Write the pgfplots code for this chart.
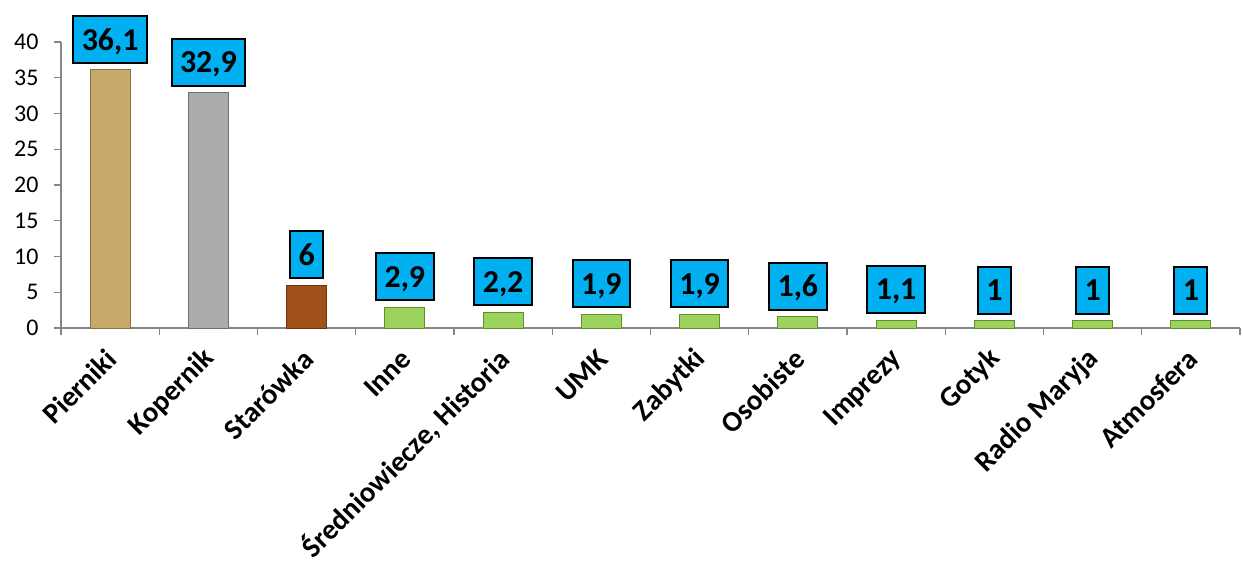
\documentclass[border=0pt]{standalone}
\usepackage{fontspec}
\setmainfont{Carlito}
\usepackage{pgfplots}
\pgfplotsset{compat=1.18}
\definecolor{labelblue}{HTML}{00B0F0}
\definecolor{axisgray}{HTML}{868686}
\definecolor{tanbar}{HTML}{C9A96A}
\definecolor{tanedge}{HTML}{8C7240}
\definecolor{graybar}{HTML}{ABABAB}
\definecolor{grayedge}{HTML}{707070}
\definecolor{brownbar}{HTML}{A1521A}
\definecolor{brownedge}{HTML}{6B340E}
\definecolor{greenbar}{HTML}{9CD35C}
\definecolor{greenedge}{HTML}{5E8F2A}

\begin{document}
\begin{tikzpicture}
\useasboundingbox (-61bp,-236bp) rectangle (1182bp,328bp);
\clip (-61bp,-236bp) rectangle (1182bp,328bp);
\begin{axis}[
  scale only axis, width=1179bp, height=286bp,
  xmin=-0.5, xmax=11.5, ymin=0, ymax=40,
  clip=false,
  axis x line=bottom, axis y line=left,
  axis line style={-, draw=axisgray, line width=1.3bp},
  tick style={draw=axisgray, line width=1.3bp},
  tick align=outside, major tick length=7bp,
  ytick={0,5,...,40},
  xtick={-0.5,0.5,...,11.5},
  x tick label as interval,
  xticklabels={Pierniki, Kopernik, Starówka, Inne, {Średniowiecze, Historia}, UMK, Zabytki, Osobiste, Imprezy, Gotyk, Radio Maryja, Atmosfera},
  xticklabel style={xshift=4bp, yshift=-17bp, rotate=45, anchor=east, font=\bfseries\fontsize{29}{29}\selectfont},
  yticklabel style={font=\fontsize{24}{24}\selectfont, xshift=-12bp},
  /pgf/number format/assume math mode=true,
  /pgf/number format/use comma,
  nodes near coords,
  every node near coord/.append style={font=\bfseries\fontsize{32}{32}\selectfont,
    fill=labelblue, draw=black, line width=2bp, anchor=south, yshift=6bp,
    minimum height=47bp, inner xsep=8.5bp, text depth=0pt},
  every axis plot/.append style={ybar, bar width=40bp, bar shift=0pt, line width=1bp},
]
\addplot[fill=tanbar, draw=tanedge] coordinates {(0,36.1)};
\addplot[fill=graybar, draw=grayedge] coordinates {(1,32.9)};
\addplot[fill=brownbar, draw=brownedge] coordinates {(2,6)};
\addplot[fill=greenbar, draw=greenedge] coordinates {
  (3,2.9) (4,2.2) (5,1.9) (6,1.9) (7,1.6) (8,1.1) (9,1) (10,1) (11,1)};
\end{axis}
\end{tikzpicture}
\end{document}
